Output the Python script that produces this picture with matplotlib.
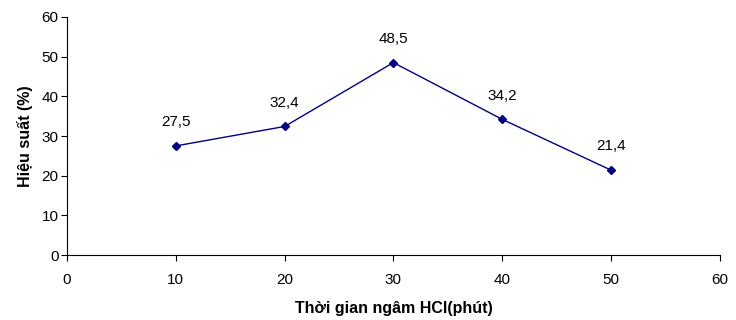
import matplotlib
matplotlib.use("Agg")
import matplotlib.pyplot as plt

# data
times = [10, 20, 30, 40, 50]
yields = [27.5, 32.4, 48.5, 34.2, 21.4]
labels = ["27,5", "32,4", "48,5", "34,2", "21,4"]

plt.rcParams['font.family'] = ['Liberation Sans', 'DejaVu Sans']

fig = plt.figure(figsize=(7.36, 3.2), dpi=100)
ax = fig.add_axes([0.091, 0.203, 0.887, 0.744])

ax.plot(times, yields, color='#000080', linewidth=1, marker='D', markersize=4.5)

for x, y, t in zip(times, yields, labels):
    ax.annotate(t, (x, y), textcoords='offset points', xytext=(0, 12),
                ha='center', va='bottom', fontsize=11)

ax.set_xlim(0, 60)
ax.set_ylim(0, 60)
ax.set_xticks(range(0, 61, 10))
ax.set_yticks(range(0, 61, 10))
ax.tick_params(labelsize=11, length=4, width=0.8)
ax.tick_params(axis='x', pad=9)
ax.tick_params(axis='y', pad=2)

for s in ['top', 'right']:
    ax.spines[s].set_visible(False)
for s in ['left', 'bottom']:
    ax.spines[s].set_linewidth(0.8)

ax.set_xlabel('Thời gian ngâm HCl(phút)', fontsize=11.5, fontweight='bold', labelpad=10)
ax.set_ylabel('Hiệu suất (%)', fontsize=11.5, fontweight='bold', labelpad=6)

fig.savefig('out.png', dpi=100)
